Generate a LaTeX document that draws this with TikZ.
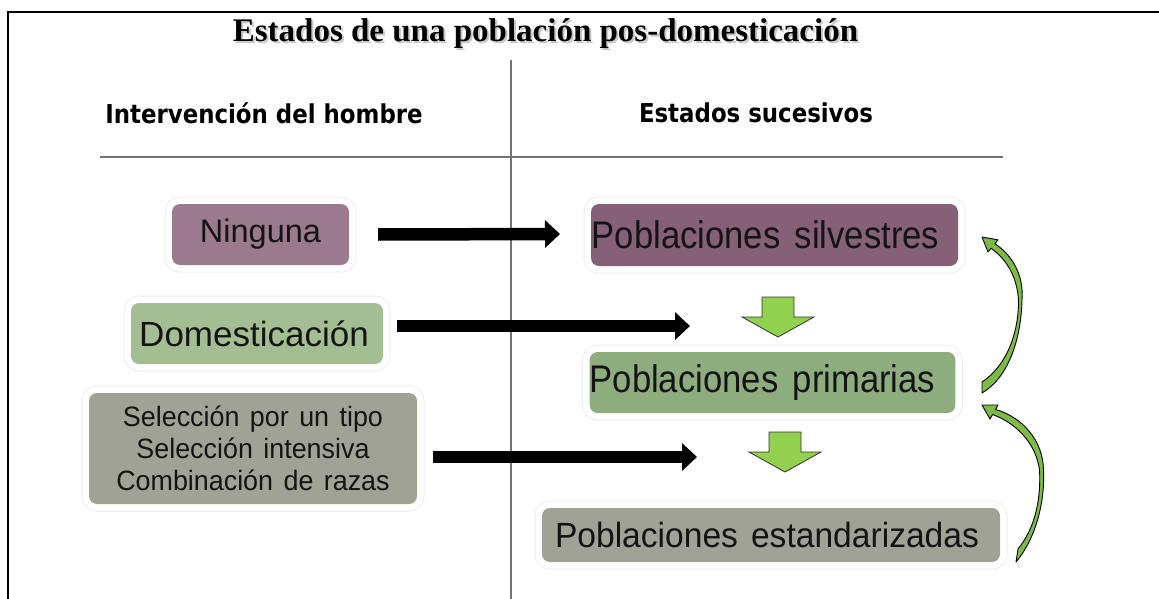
\documentclass[tikz,border=0pt]{standalone}
\usepackage{fontspec}
\setmainfont{Liberation Sans}
\newfontfamily\titlefont{Liberation Serif}
\newfontfamily\headfont[FakeStretch=0.88]{DejaVu Sans}
\newfontfamily\condfont[FakeStretch=0.9,WordSpace=1.5]{Liberation Sans}
\newfontfamily\widefont[FakeStretch=0.96,WordSpace=1.4]{Liberation Sans}
\usetikzlibrary{arrows.meta}
\definecolor{purA}{HTML}{9B7A8E}
\definecolor{purB}{HTML}{856076}
\definecolor{grnA}{HTML}{A3BE92}
\definecolor{grnB}{HTML}{8EAD7E}
\definecolor{gryA}{HTML}{A0A296}
\definecolor{arrgrn}{HTML}{92D050}
\definecolor{curvgrn}{HTML}{7DBB45}
\tikzset{
  box/.style={rounded corners=8pt, inner sep=0pt, align=center, text=black!92,
    preaction={draw=black!7, line width=15pt},
    preaction={draw=white, line width=13pt}},
  ttl/.style={font=\titlefont\bfseries\fontsize{33}{36}\selectfont, inner sep=0pt},
  hdr/.style={font=\headfont\bfseries\fontsize{26}{28}\selectfont, inner sep=0pt},
  bigarrow/.style={line width=12.5pt, -{Triangle[length=15pt,width=27pt]}},
  downarr/.style={fill=arrgrn, draw=black!80, line width=0.8pt, line join=miter},
  curvarr/.style={fill=curvgrn, draw=black, line width=0.9pt, line join=round},
  rule/.style={draw=black!55, line width=1.2pt}
}
\begin{document}
\begin{tikzpicture}[x=1pt,y=-1pt]
\useasboundingbox (0,0) rectangle (1159,599);
\fill[white] (0,0) rectangle (1159,599);
% frame
\draw[line width=1.6pt] (8,599) -- (8,12) -- (1159,12);
% title with shadow
\node[ttl, text=black!22] at (547.5,35.5) {Estados de una población pos-domesticación};
\node[ttl] (title) at (545.5,33.5) {Estados de una población pos-domesticación};
% rules
\draw[rule] (511,60) -- (511,599);
\draw[rule] (100,157) -- (1003,157);
% headers
\node[hdr] (h1) at (264,113) {Intervención del hombre};
\node[hdr] (h2) at (756,113) {Estados sucesivos};
% left boxes
\node[box, fill=purA, minimum width=177pt, minimum height=61pt,
  font=\fontsize{32.5}{36}\selectfont] (ning) at (260.5,234.5) {Ninguna};
\node[box, fill=grnA, minimum width=252pt, minimum height=61pt,
  font=\fontsize{35}{40}\selectfont] (dom) at (257,333.5) {Domesticación\hspace*{6pt}};
\node[box, fill=gryA, minimum width=328pt, minimum height=111pt,
  font=\widefont\fontsize{28}{32}\selectfont] (sel) at (253,448.5)
  {Selección por un tipo\\Selección intensiva\\Combinación de razas};
% right boxes
\node[box, fill=purB, minimum width=367pt, minimum height=62pt,
  font=\condfont\fontsize{38.5}{42}\selectfont] (silv) at (774.5,235) {Poblaciones silvestres\hspace*{18pt}};
\node[box, fill=grnB, minimum width=365pt, minimum height=61pt,
  font=\condfont\fontsize{38.5}{42}\selectfont] (prim) at (772.5,382.5) {Poblaciones primarias\hspace*{20pt}};
\node[box, fill=gryA, minimum width=458pt, minimum height=54pt,
  font=\widefont\fontsize{35}{38}\selectfont] (est) at (771,535) {Poblaciones estandarizadas\hspace*{8pt}};
% black arrows
\coordinate (a1s) at ([xshift=29pt]ning.east);
\coordinate (a1e) at (560,234);
\draw[bigarrow] (a1s) -- (a1e);
\coordinate (a2s) at (397,326);
\coordinate (a2e) at (690,326);
\draw[bigarrow] (a2s) -- (a2e);
\coordinate (a3s) at (433,457);
\coordinate (a3e) at (697,457);
\draw[bigarrow] (a3s) -- (a3e);
% down block arrows
\coordinate (d1) at (778,297);
\coordinate (d2) at (785,432);
\draw[downarr, shift={(d1)}] (-16,0) -- (16,0) -- (16,20) -- (36,20) -- (0,40) -- (-36,20) -- (-16,20) -- cycle;
\draw[downarr, shift={(d2)}] (-16,0) -- (16,0) -- (16,20) -- (36,20) -- (0,40) -- (-36,20) -- (-16,20) -- cycle;
% curved arrows
\draw[curvarr] (982,382) .. controls (1008,365) and (1019,330) .. (1018.5,300)
  .. controls (1017,275) and (1005,258) .. (991,248.3)
  -- (988,252) -- (982,237) -- (998,239.8) -- (994.9,243.7)
  .. controls (1012,255) and (1024,275) .. (1022,300)
  .. controls (1021,340) and (1008,378) .. (982,393) -- cycle;
\draw[curvarr] (1018,549) .. controls (1036,527) and (1041,497) .. (1039.5,470)
  .. controls (1036,442) and (1014,422) .. (992.5,414.5)
  -- (990,419) -- (982,405) -- (998,405) -- (995.5,409.5)
  .. controls (1022,417) and (1043,440) .. (1043.5,470)
  .. controls (1045,502) and (1036,538) .. (1016,562) -- cycle;
\end{tikzpicture}
\end{document}
